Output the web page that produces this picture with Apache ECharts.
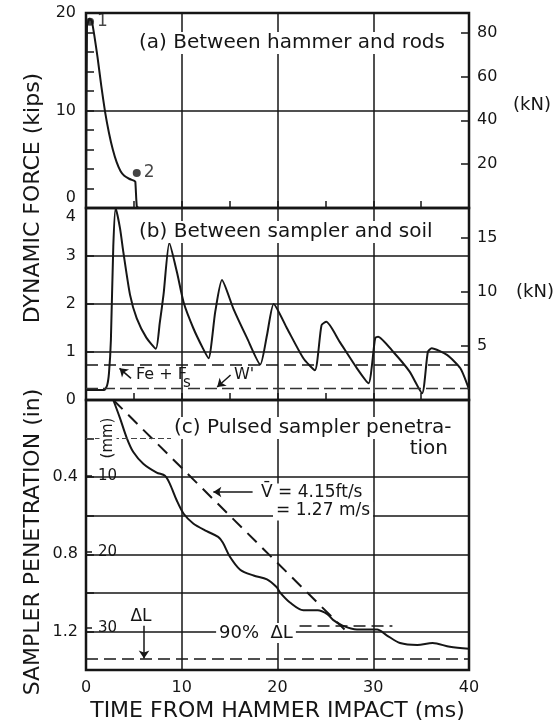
<!DOCTYPE html>
<html><head><meta charset="utf-8">
<script src="https://cdn.jsdelivr.net/npm/echarts@6/dist/echarts.min.js"></script>
<style>html,body{margin:0;padding:0;background:#fff}#c{width:559px;height:723px}</style>
</head><body><div id="c"></div>
<script>
// ---------- data ----------
// (a) force between hammer and rods (kips) vs time (ms)
const timeA  = [0, 0.1, 0.35, 0.6, 0.9, 1.2, 1.6, 2.0, 2.4, 2.8, 3.2, 3.6, 4.0, 4.5, 5.0, 5.15, 5.3, 5.5, 40];
const forceA = [0, 18.6, 19.4, 19.2, 17.5, 15.5, 12.5, 9.8, 7.7, 6.0, 4.7, 3.8, 3.3, 3.0, 2.8, 2.7, 0.2, 0, 0];
const pointNames = ['1', '2'];
const pointTimes = [0.42, 5.3];
const pointForces = [19.1, 3.6];

// (b) force between sampler and soil (kips)
const timeB  = [0, 1.9, 2.2, 2.4, 2.6, 2.85, 3.1, 3.55, 3.9, 4.6, 5.3, 6.3, 7.3, 7.7, 8.1, 8.7, 9.5, 10.2, 11.2, 12.2, 12.8, 13.5, 14.2, 15.4, 16.8, 18.2, 18.9, 19.6, 21.0, 22.7, 23.9, 24.6, 25.1, 26.5, 28.3, 29.5, 30.2, 30.5, 32.1, 33.8, 35.1, 35.7, 36.1, 37.7, 39.1, 39.9, 40];
const forceB = [0.21, 0.21, 0.3, 0.56, 1.25, 3.2, 4.0, 3.58, 3.08, 2.19, 1.7, 1.3, 1.07, 1.6, 2.2, 3.27, 2.66, 2.03, 1.5, 1.08, 0.87, 1.84, 2.5, 1.9, 1.3, 0.74, 1.35, 2.0, 1.49, 0.87, 0.62, 1.56, 1.63, 1.21, 0.66, 0.35, 1.29, 1.32, 1.0, 0.59, 0.14, 1.0, 1.08, 0.94, 0.66, 0.28, 0.2];
const feFsLevel = 0.73;   // Fe + Fs (kips)
const wLevel = 0.25;      // W' (kips)

// (c) sampler penetration (in)
const timeC = [2.85, 3.55, 4.25, 4.94, 5.98, 7.38, 8.25, 8.77, 9.47, 10.2, 11.2, 12.6, 13.8, 14.3, 15.0, 16.1, 17.5, 18.9, 19.9, 20.3, 21.3, 22.7, 24.2, 25.2, 25.8, 26.8, 28.3, 29.3, 30.4, 31.4, 32.8, 34.6, 36.2, 38.0, 40];
const penC  = [0, 0.094, 0.196, 0.27, 0.33, 0.376, 0.393, 0.436, 0.52, 0.59, 0.64, 0.68, 0.71, 0.74, 0.81, 0.88, 0.91, 0.93, 0.97, 1.0, 1.05, 1.09, 1.09, 1.11, 1.14, 1.17, 1.19, 1.19, 1.19, 1.22, 1.26, 1.27, 1.26, 1.28, 1.29];
const velTime = [2.85, 27.0];
const velPen  = [0, 1.19];
const gridLevelsC = [0.4, 0.6, 0.8, 1.0, 1.2];
const partialLevelC = 0.2, partialEndTime = 9;
const deltaL = 1.34;
const deltaL90 = 1.17, deltaL90Start = 22.3, deltaL90End = 32;

// tick labels
const kipsTicksA = [0, 10, 20];
const kipsTicksB = [0, 1, 2, 3, 4];
const knTicksA = [20, 40, 60, 80];
const knTicksB = [5, 10, 15];
const inTicksC = ['0.4', '0.8', '1.2'];
const mmTicksC = [10, 20, 30];
const timeTicks = [0, 10, 20, 30, 40];
const KN_PER_KIP = 4.44822;
const MM_PER_IN = 25.4;

// ---------- chart ----------
const ink = '#161616';
const FONT = 'DejaVu Sans';
const ts = (s, extra) => Object.assign({color: ink, fontFamily: FONT, fontSize: s}, extra || {});
const pairs = (xs, ys) => xs.map((x, i) => [x, ys[i]]);
const chart = echarts.init(document.getElementById('c'));

function xAx(i) {
  return {
    type: 'value', gridIndex: i, min: 0, max: 40, interval: 10,
    axisLine: {show: false},
    axisTick: {show: true, inside: true, length: 7, lineStyle: {color: ink, width: 1.5}},
    minorTick: {show: true, splitNumber: 2, length: 7, lineStyle: {color: ink, width: 1.5}},
    splitLine: {show: true, lineStyle: {color: ink, width: 1.5}},
    axisLabel: i === 2 ? Object.assign({show: true, margin: 10,
      formatter: v => timeTicks.includes(v) ? String(v) : ''}, ts(16)) : {show: false},
    name: i === 2 ? 'TIME FROM HAMMER IMPACT (ms)' : '',
    nameLocation: 'middle', nameGap: 30, nameTextStyle: ts(22)
  };
}
const gridStyle = {left: 86, width: 383, show: true, borderColor: ink, borderWidth: 2.5};
const noLine = {show: false};
const tickIn = (len) => ({show: true, inside: true, length: len, lineStyle: {color: ink, width: 1.5}});

const option = {
  animation: false,
  backgroundColor: '#fff',
  grid: [
    Object.assign({top: 13, height: 195}, gridStyle),
    Object.assign({top: 208, height: 192}, gridStyle),
    Object.assign({top: 400, height: 273}, gridStyle)
  ],
  xAxis: [xAx(0), xAx(1), xAx(2)],
  yAxis: [
    { // 0: (a) kips
      type: 'value', gridIndex: 0, min: 0, max: 20, interval: 10,
      axisLine: noLine, axisTick: tickIn(8),
      minorTick: {show: true, splitNumber: 5, length: 8, lineStyle: {color: ink, width: 1.5}},
      splitLine: {show: true, lineStyle: {color: ink, width: 1.5}},
      axisLabel: Object.assign({margin: 10,
        formatter: v => kipsTicksA.includes(v) ? (v === 0 ? '{lo|0}' : String(v)) : '',
        rich: {lo: ts(16, {padding: [0, 0, 20, 0]})}}, ts(16))
    },
    { // 1: (a) kN
      type: 'value', gridIndex: 0, position: 'right', min: 0, max: 20 * KN_PER_KIP, interval: 20,
      axisLine: noLine, axisTick: tickIn(8), splitLine: noLine,
      axisLabel: Object.assign({margin: 8, formatter: v => knTicksA.includes(v) ? String(v) : ''}, ts(16))
    },
    { // 2: (b) kips
      type: 'value', gridIndex: 1, min: 0, max: 4, interval: 1,
      axisLine: noLine, axisTick: tickIn(8),
      splitLine: {show: true, lineStyle: {color: ink, width: 1.5}},
      axisLabel: Object.assign({margin: 10,
        formatter: v => kipsTicksB.includes(v) ? (v === 4 ? '{hi|4}' : String(v)) : '',
        rich: {hi: ts(16, {padding: [18, 0, 0, 0]})}}, ts(16))
    },
    { // 3: (b) kN
      type: 'value', gridIndex: 1, position: 'right', min: 0, max: 4 * KN_PER_KIP, interval: 5,
      axisLine: noLine, axisTick: tickIn(8), splitLine: noLine,
      axisLabel: Object.assign({margin: 8, formatter: v => knTicksB.includes(v) ? String(v) : ''}, ts(16))
    },
    { // 4: (c) inches
      type: 'value', gridIndex: 2, inverse: true, min: 0, max: 1.4, interval: 0.2,
      axisLine: noLine, axisTick: tickIn(8), splitLine: noLine,
      axisLabel: Object.assign({margin: 8, formatter: v => {
        const s = (Math.round(v * 10) / 10).toFixed(1);
        return inTicksC.includes(s) ? s : '';
      }}, ts(16))
    },
    { // 5: (c) mm (inside)
      type: 'value', gridIndex: 2, position: 'left', inverse: true, min: 0, max: 1.4 * MM_PER_IN, interval: 10,
      axisLine: noLine, axisTick: tickIn(6), splitLine: noLine,
      axisLabel: Object.assign({inside: true, margin: 11, backgroundColor: '#fff', padding: [0, 2, 0, 1],
        formatter: v => mmTicksC.includes(v) ? String(v) : ''}, ts(15))
    }
  ],
  series: [
    {
      type: 'line', xAxisIndex: 0, yAxisIndex: 0, data: pairs(timeA, forceA),
      showSymbol: false, smooth: 0.15, lineStyle: {color: ink, width: 2}, z: 3
    },
    {
      type: 'scatter', xAxisIndex: 0, yAxisIndex: 0,
      data: pointNames.map((n, i) => ({name: n, value: [pointTimes[i], pointForces[i]]})),
      symbolSize: 8, itemStyle: {color: ink},
      label: Object.assign({show: true, position: 'right', distance: 3, formatter: '{b}'}, ts(17)), z: 4
    },
    {
      type: 'line', xAxisIndex: 1, yAxisIndex: 2, data: pairs(timeB, forceB),
      showSymbol: false, smooth: 0.2, lineStyle: {color: ink, width: 2}, z: 3,
      markLine: {
        silent: true, symbol: 'none', label: {show: false},
        lineStyle: {color: ink, width: 1.5, type: [12, 6]},
        data: [
          {yAxis: feFsLevel},
          {yAxis: wLevel, lineStyle: {color: '#333', width: 1.3, type: [12, 5]}},
          [{coord: [4.7, 0.45], symbol: 'none', lineStyle: {type: 'solid', width: 1.5, curveness: 0.2}},
           {coord: [3.5, 0.66], symbol: 'arrow', symbolSize: 8}],
          [{coord: [15.1, 0.52], symbol: 'none', lineStyle: {type: 'solid', width: 1.5, curveness: 0.25}},
           {coord: [13.7, 0.27], symbol: 'arrow', symbolSize: 8}]
        ]
      }
    },
    {
      type: 'line', xAxisIndex: 2, yAxisIndex: 4, data: pairs(timeC, penC),
      showSymbol: false, smooth: 0.3, lineStyle: {color: ink, width: 2}, z: 3,
      markLine: {
        silent: true, symbol: 'none', label: {show: false},
        lineStyle: {color: ink, width: 1.5, type: 'solid'},
        data: gridLevelsC.map(v => ({yAxis: v})).concat([
          [{coord: [0, partialLevelC], lineStyle: {width: 1, type: [6, 3], color: '#444'}}, {coord: [partialEndTime, partialLevelC]}],
          {yAxis: deltaL, lineStyle: {type: [12, 6], width: 1.5}},
          [{coord: [deltaL90Start, deltaL90], lineStyle: {type: [12, 6], width: 1.5}}, {coord: [deltaL90End, deltaL90]}],
          [{coord: [6.06, 1.17], symbol: 'none'}, {coord: [6.06, deltaL], symbol: 'arrow', symbolSize: 8}],
          [{coord: [17.4, 0.477], symbol: 'none'}, {coord: [13.3, 0.477], symbol: 'arrow', symbolSize: 8}]
        ])
      }
    },
    {
      type: 'line', xAxisIndex: 2, yAxisIndex: 4, data: pairs(velTime, velPen),
      showSymbol: false, lineStyle: {color: ink, width: 2, type: [13, 8]}, z: 3
    }
  ]
};
chart.setOption(option);

// ---------- text annotations ----------
function label(x, y, text, size, opts) {
  opts = opts || {};
  return {
    type: 'text', x: x, y: y, z: 20, rotation: opts.rot || 0,
    style: {
      text: text, fill: ink, font: size + 'px "' + FONT + '"',
      textAlign: opts.align || 'left', textVerticalAlign: 'middle',
      backgroundColor: opts.bg ? '#fff' : null, padding: opts.bg ? [1, 3] : 0
    }
  };
}
chart.setOption({
  graphic: [
    label(136, 43, '(a) Between hammer and rods', 20, {bg: true}),
    label(136, 232, '(b) Between sampler and soil', 20, {bg: true}),
    label(171, 428, '(c) Pulsed sampler penetra-', 20, {bg: true}),
    label(451, 449, 'tion', 20, {align: 'right', bg: true}),
    label(532, 105, '(kN)', 18, {align: 'center'}),
    label(535, 292, '(kN)', 18, {align: 'center'}),
    label(33, 198, 'DYNAMIC FORCE (kips)', 22, {align: 'center', rot: Math.PI / 2}),
    label(33, 542, 'SAMPLER PENETRATION (in)', 22, {align: 'center', rot: Math.PI / 2}),
    label(108, 438, '(mm)', 15, {align: 'center', rot: Math.PI / 2, bg: true}),
    label(136, 375, 'Fe + F', 16),
    label(183, 383, 's', 15),
    label(234, 375, "W'", 16),
    label(258, 493, 'V\u0304 = 4.15ft/s', 17, {bg: true}),
    label(273, 511, '= 1.27 m/s', 17, {bg: true}),
    label(141, 617, '\u0394L', 17, {align: 'center'}),
    label(256, 633, '90%  \u0394L', 18, {align: 'center', bg: true})
  ]
});
</script>
</body></html>
